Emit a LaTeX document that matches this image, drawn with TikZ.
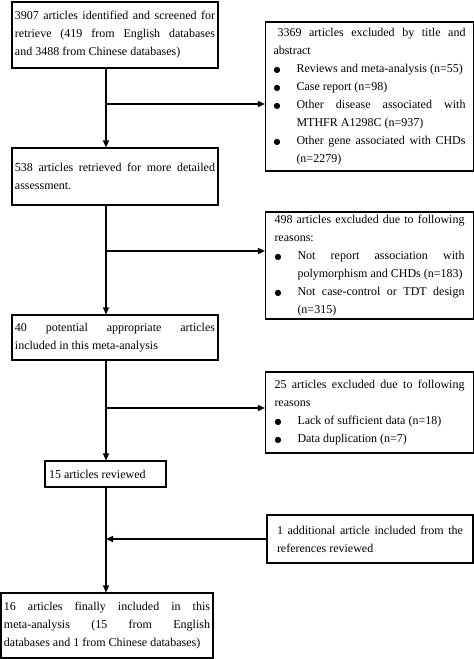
\documentclass[tikz,border=0pt]{standalone}
\usepackage{fontspec}
\setmainfont{Liberation Serif}
\newfontfamily\dotfont{DejaVu Sans}
\usetikzlibrary{arrows.meta,calc}
\setlength{\parindent}{0pt}
\hyphenpenalty=10000
\tolerance=9999
\newcommand{\bitem}[1]{\par\leftskip=23pt\noindent\llap{\hbox to 23pt{{\dotfont\fontsize{8}{8}\selectfont ●}\hfil}}#1\par}

\begin{document}
\begin{tikzpicture}[x=1pt,y=-1pt,
        box/.style={draw,line width=1.1pt,inner xsep=3pt,inner ysep=0pt,align=justify,font=\fontsize{12}{18}\selectfont},
        note/.style={box,inner xsep=8pt},
        flow/.style={line width=1.3pt,-{Triangle[length=7pt,width=6pt]}}]
    \useasboundingbox (0,0) rectangle (474,659);
    \coordinate (spine) at (106,0);

    % main column
    \node[box,text width=200pt,minimum height=66pt] (found) at (115,35)
        {3907 articles identified and screened for\linebreak retrieve (419 from English databases\linebreak and 3488 from Chinese databases)};
    \node[box,text width=200pt,minimum height=57pt] (retr) at (115,176.5)
        {538 articles retrieved for more detailed\linebreak assessment.};
    \node[box,text width=200pt,minimum height=45pt] (pot) at (115,337.5)
        {40 potential appropriate articles\linebreak included in this meta-analysis};
    \node[box,text width=113pt,minimum height=26pt,inner xsep=4pt] (rev) at (105.5,474)
        {15 articles reviewed};
    \node[box,text width=206pt,minimum height=65pt] (final) at (107,625.5)
        {16 articles finally included in this\linebreak meta-analysis (15 from English\linebreak databases and 1 from Chinese databases)};

    % side boxes
    \node[note,text width=192pt,minimum height=149pt] (excl1) at (369.5,96.5)
        {\hspace*{4pt}3369 articles excluded by title and\linebreak abstract
         \bitem{Reviews and meta-analysis (n=55)}
         \bitem{Case report (n=98)}
         \bitem{Other disease associated with\linebreak MTHFR A1298C (n=937)}
         \bitem{Other gene associated with CHDs\linebreak (n=2279)}};
    \node[note,text width=190pt,minimum height=107pt,inner xsep=9pt] (excl2) at (369.5,265.5)
        {498 articles excluded due to following\linebreak reasons:
         \bitem{Not report association with\linebreak polymorphism and CHDs (n=183)}
         \bitem{Not case-control or TDT design\linebreak (n=315)}};
    \node[note,text width=190pt,minimum height=81pt,inner xsep=9pt] (excl3) at (369.5,412.5)
        {25 articles excluded due to following\linebreak reasons
         \bitem{Lack of sufficient data (n=18)}
         \bitem{Data duplication (n=7)}};
    \node[note,text width=186pt,minimum height=48pt,inner xsep=10pt] (extra) at (370,539)
        {1 additional article included from the\linebreak references reviewed};

    % connectors
    \draw[flow] (found.south -| spine) -- (retr.north -| spine);
    \draw[flow] (retr.south -| spine) -- (pot.north -| spine);
    \draw[flow] (pot.south -| spine) -- (rev.north -| spine);
    \draw[flow] (rev.south -| spine) -- (final.north -| spine);

    \coordinate (j1) at (106,104);
    \coordinate (j2) at (106,251);
    \coordinate (j3) at (106,408);
    \draw[flow] (j1) -- (j1 -| excl1.west);
    \draw[flow] (j2) -- (j2 -| excl2.west);
    \draw[flow] (j3) -- (j3 -| excl3.west);
    \draw[flow] (extra.west) -- (extra.west -| spine);
\end{tikzpicture}
\end{document}
